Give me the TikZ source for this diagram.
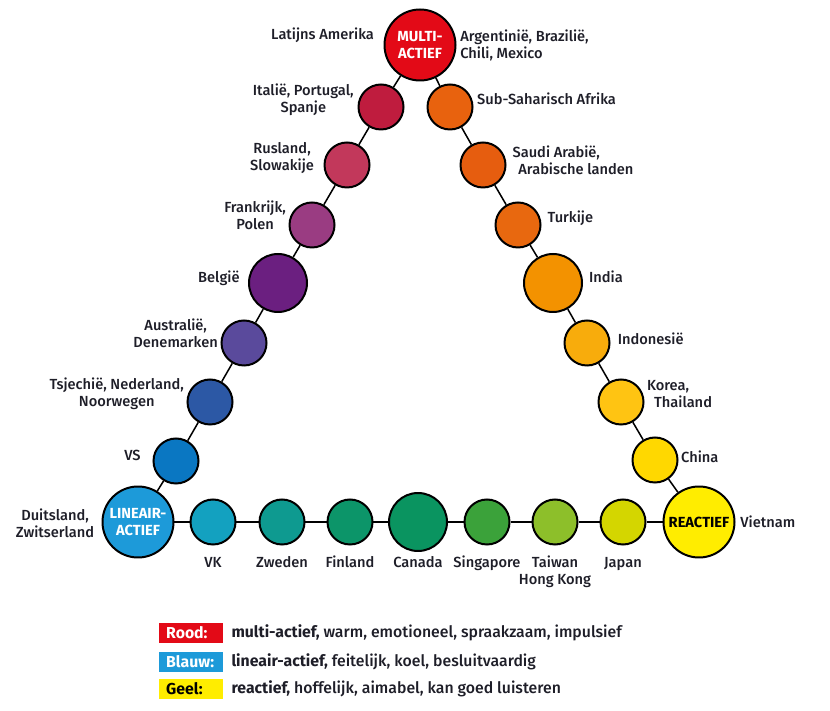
\documentclass[tikz,border=0pt]{standalone}
\usepackage{fontspec}
\setmainfont{Fira Sans Medium}[BoldFont=Fira Sans Bold]
\usetikzlibrary{positioning}

\definecolor{txt}{HTML}{1E1E28}
\definecolor{cMulti}{HTML}{E30A17}
\definecolor{cIta}{HTML}{BF1C3E}
\definecolor{cRus}{HTML}{C2385B}
\definecolor{cFra}{HTML}{9A3C82}
\definecolor{cBel}{HTML}{6B1F80}
\definecolor{cAus}{HTML}{5A4A9C}
\definecolor{cTsj}{HTML}{2C58A5}
\definecolor{cVS}{HTML}{0A77C2}
\definecolor{cLin}{HTML}{1D9AD9}
\definecolor{cVK}{HTML}{13A1C0}
\definecolor{cZw}{HTML}{0E9A90}
\definecolor{cFin}{HTML}{0C9569}
\definecolor{cCan}{HTML}{0A9460}
\definecolor{cSing}{HTML}{3BA23A}
\definecolor{cTai}{HTML}{8DBF2A}
\definecolor{cJap}{HTML}{D4D600}
\definecolor{cRea}{HTML}{FFED00}
\definecolor{cChi}{HTML}{FFD800}
\definecolor{cKor}{HTML}{FFC412}
\definecolor{cIndo}{HTML}{F8AC0C}
\definecolor{cInd}{HTML}{F39200}
\definecolor{cTur}{HTML}{E8680F}
\definecolor{cSau}{HTML}{E65D0F}
\definecolor{cSub}{HTML}{E8620E}

\begin{document}
\begin{tikzpicture}[x=0.03cm,y=-0.03cm,
  land/.style={circle,draw=black,line width=1.7pt,fill=#1,minimum size=1.35cm,inner sep=0pt},
  groot/.style={land=#1,minimum size=1.74cm},
  hoofd/.style={land=#1,minimum size=2.13cm,font=\fontsize{12.5}{15}\selectfont\bfseries,align=center},
  lbl/.style={font=\fontsize{12.5}{14.5}\selectfont,text=txt,inner sep=1pt},
  leg/.style={lbl,font=\fontsize{13.5}{15}\selectfont},
  verbind/.style={line width=1.3pt},
  legbox/.style={fill=#1,anchor=west,minimum height=0.6cm,text width=1.5cm,inner xsep=0.21cm,inner ysep=0pt,align=left,font=\fontsize{13.5}{15}\selectfont\bfseries}]
\useasboundingbox (0,0) rectangle (830,711);

% hoekpunten
\node[hoofd=cMulti,text=white] (multi) at (420,45) {MULTI-\\ACTIEF};
\node[hoofd=cLin,text=white] (lin) at (138,522) {LINEAIR-\\ACTIEF};
\node[hoofd=cRea,text=black] (rea) at (699,522) {REACTIEF};

% linkerzijde
\node[land=cIta] (ita) at (381,107) {};
\node[land=cRus] (rus) at (347,165) {};
\node[land=cFra] (fra) at (312,225) {};
\node[groot=cBel] (bel) at (278,283) {};
\node[land=cAus] (aus) at (244,343) {};
\node[land=cTsj] (tsj) at (210,402) {};
\node[land=cVS] (vs) at (176,461) {};

% rechterzijde
\node[land=cSub] (sub) at (450,107) {};
\node[land=cSau] (sau) at (483,165) {};
\node[land=cTur] (tur) at (518,225) {};
\node[groot=cInd] (ind) at (553,283) {};
\node[land=cIndo] (indo) at (587,343) {};
\node[land=cKor] (kor) at (621,402) {};
\node[land=cChi] (chi) at (655,460) {};

% onderzijde
\node[land=cVK] (vk) at (213,522) {};
\node[land=cZw] (zw) at (282,522) {};
\node[land=cFin] (fin) at (350,522) {};
\node[groot=cCan] (can) at (418,522) {};
\node[land=cSing] (sing) at (487,522) {};
\node[land=cTai] (tai) at (555,522) {};
\node[land=cJap] (jap) at (623,522) {};

\draw[verbind] (multi) -- (ita) -- (rus) -- (fra) -- (bel) -- (aus) -- (tsj) -- (vs) -- (lin);
\draw[verbind] (multi) -- (sub) -- (sau) -- (tur) -- (ind) -- (indo) -- (kor) -- (chi) -- (rea);
\draw[verbind] (lin) -- (vk) -- (zw) -- (fin) -- (can) -- (sing) -- (tai) -- (jap) -- (rea);

% landnamen
\node[lbl,left=7pt of multi,yshift=8pt] (multiL) {Latijns Amerika};
\node[lbl,right=2pt of multi,align=left] (multiR) {Argentinië, Brazilië,\\Chili, Mexico};
\node[lbl,left=2pt of ita,yshift=6pt,align=center] (itaL) {Italië, Portugal,\\Spanje};
\node[lbl,left=7pt of rus,yshift=6pt,align=center] (rusL) {Rusland,\\Slowakije};
\node[lbl,left=1pt of fra,yshift=8pt,align=center] (fraL) {Frankrijk,\\Polen};
\node[lbl,left=6pt of bel,yshift=4pt] (belL) {België};
\node[lbl,left=1pt of aus,yshift=8pt,align=center] (ausL) {Australië,\\Denemarken};
\node[lbl,left=1pt of tsj,yshift=7pt,align=center] (tsjL) {Tsjechië, Nederland,\\Noorwegen};
\node[lbl,left=9pt of vs,yshift=5pt] (vsL) {VS};
\node[lbl,left=5pt of lin,yshift=-1pt,align=center] (linL) {Duitsland,\\Zwitserland};

\node[lbl,right=2pt of sub,yshift=7pt] (subL) {Sub-Saharisch Afrika};
\node[lbl,right=4pt of sau,yshift=4pt,align=left] (sauL) {Saudi Arabië,\\\hspace{5pt}Arabische landen};
\node[lbl,right=4pt of tur,yshift=6pt] (turL) {Turkije};
\node[lbl,right=4pt of ind,yshift=5pt] (indL) {India};
\node[lbl,right=5pt of indo,yshift=4pt] (indoL) {Indonesië};
\node[lbl,right=1pt of kor,yshift=7pt,align=left] (korL) {Korea,\\\hspace{6pt}Thailand};
\node[lbl,right=1pt of chi,yshift=3pt] (chiL) {China};
\node[lbl,right=3pt of rea] (reaL) {Vietnam};

\coordinate (rij) at (0,568);
\node[lbl,anchor=base] (vkL) at (vk |- rij) {VK};
\node[lbl,anchor=base] (zwL) at (zw |- rij) {Zweden};
\node[lbl,anchor=base] (finL) at (fin |- rij) {Finland};
\node[lbl,anchor=base] (canL) at (can |- rij) {Canada};
\node[lbl,anchor=base] (singL) at (sing |- rij) {Singapore};
\node[lbl,anchor=base,align=center,yshift=-14.5pt] (taiL) at (tai |- rij) {Taiwan\\Hong Kong};
\node[lbl,anchor=base] (japL) at (jap |- rij) {Japan};

% legenda
\node[legbox=cMulti,text=white] (rood) at (159,633) {Rood:};
\node[legbox=cLin,text=white] (blauw) at (159,662) {Blauw:};
\node[legbox=cRea,text=black] (geel) at (159,689) {Geel:};
\node[leg,right=0.2cm of rood] (roodT) {\textbf{multi-actief,} warm, emotioneel, spraakzaam, impulsief};
\node[leg,right=0.2cm of blauw] (blauwT) {\textbf{lineair-actief,} feitelijk, koel, besluitvaardig};
\node[leg,right=0.2cm of geel] (geelT) {\textbf{reactief,} hoffelijk, aimabel, kan goed luisteren};
\end{tikzpicture}
\end{document}
